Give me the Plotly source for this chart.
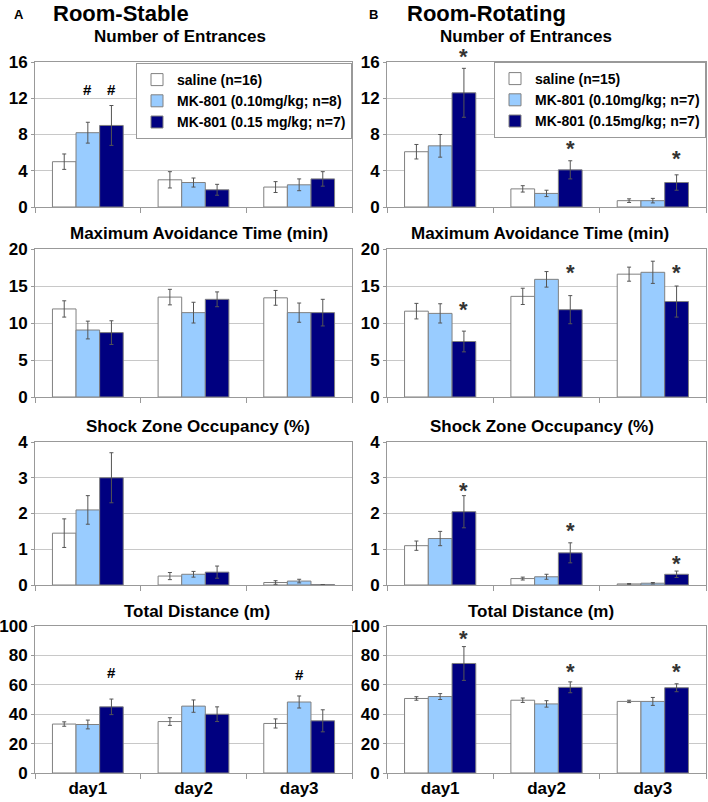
import plotly.graph_objects as go

days = ["day1", "day2", "day3"]

# rows: saline, MK-801 0.10, MK-801 0.15 ; columns: day1..day3
entr_stable = [[5.0, 3.0, 2.2], [8.2, 2.7, 2.45], [9.0, 1.9, 3.1]]
entr_stable_err = [[0.85, 0.9, 0.6], [1.15, 0.5, 0.65], [2.2, 0.6, 0.8]]
entr_rot = [[6.1, 2.0, 0.7], [6.75, 1.5, 0.7], [12.6, 4.1, 2.7]]
entr_rot_err = [[0.8, 0.35, 0.2], [1.25, 0.35, 0.25], [2.7, 1.0, 0.85]]

avoid_stable = [[11.9, 13.5, 13.4], [9.05, 11.4, 11.4], [8.7, 13.2, 11.4]]
avoid_stable_err = [[1.1, 1.05, 1.0], [1.2, 1.4, 1.3], [1.6, 1.0, 1.8]]
avoid_rot = [[11.6, 13.6, 16.6], [11.3, 15.9, 16.85], [7.5, 11.8, 12.9]]
avoid_rot_err = [[1.05, 1.1, 0.95], [1.3, 1.05, 1.5], [1.4, 1.9, 2.1]]

shock_stable = [[1.45, 0.25, 0.07], [2.1, 0.3, 0.11], [3.0, 0.36, 0.01]]
shock_stable_err = [[0.4, 0.1, 0.05], [0.4, 0.08, 0.05], [0.7, 0.17, 0.0]]
shock_rot = [[1.1, 0.18, 0.03], [1.3, 0.23, 0.05], [2.05, 0.9, 0.3]]
shock_rot_err = [[0.13, 0.04, 0.01], [0.2, 0.07, 0.02], [0.45, 0.28, 0.09]]

dist_stable = [[33.3, 35.0, 33.7], [33.0, 45.5, 48.3], [45.0, 40.0, 35.5]]
dist_stable_err = [[1.5, 2.6, 3.1], [3.0, 4.2, 4.1], [5.3, 5.0, 7.5]]
dist_rot = [[50.7, 49.5, 48.7], [52.0, 47.0, 48.7], [74.5, 58.3, 58.0]]
dist_rot_err = [[1.2, 1.5, 0.8], [2.0, 2.2, 2.7], [11.5, 3.7, 2.7]]

panel_titles = ["Number of Entrances", "Maximum Avoidance Time (min)",
                "Shock Zone Occupancy (%)", "Total Distance (m)"]
y_max = [16, 20, 4, 100]
y_step = [4, 5, 1, 20]

names_stable = ["saline (n=16)", "MK-801 (0.10mg/kg; n=8)", "MK-801 (0.15 mg/kg; n=7)"]
names_rot = ["saline (n=15)", "MK-801 (0.10mg/kg; n=7)", "MK-801 (0.15mg/kg; n=7)"]

# significance marks: (row, col, group, day index, symbol, y)
marks = [
    (0, 0, 1, 0, "#", 13.0), (0, 0, 2, 0, "#", 13.0),
    (3, 0, 2, 0, "#", 68.5), (3, 0, 1, 2, "#", 66.7),
    (0, 1, 2, 0, "*", 17.0), (0, 1, 2, 1, "*", 6.9), (0, 1, 2, 2, "*", 5.8),
    (1, 1, 2, 0, "*", 12.4), (1, 1, 2, 1, "*", 17.3), (1, 1, 2, 2, "*", 17.3),
    (2, 1, 2, 0, "*", 2.75), (2, 1, 2, 1, "*", 1.65), (2, 1, 2, 2, "*", 0.7),
    (3, 1, 2, 0, "*", 94), (3, 1, 2, 1, "*", 71.5), (3, 1, 2, 2, "*", 71.5),
]

means = [[entr_stable, entr_rot], [avoid_stable, avoid_rot],
         [shock_stable, shock_rot], [dist_stable, dist_rot]]
errs = [[entr_stable_err, entr_rot_err], [avoid_stable_err, avoid_rot_err],
        [shock_stable_err, shock_rot_err], [dist_stable_err, dist_rot_err]]

colors = ["#FFFFFF", "#99CCFF", "#000080"]
FONT = "Liberation Sans, Arial, sans-serif"
W, H = 708, 802
bargap = 0.33

# plot areas in pixels
col_px = [(35, 352), (387, 706)]
row_px = [(62, 207), (249, 397), (442, 585), (626, 773)]
title_y = [37, 234, 426, 611]
title_x = [[180, 526], [199, 540], [198, 542], [197, 541]]

fig = go.Figure()
layout = {}
annotations = []

for r in range(4):
    for c in range(2):
        k = r * 2 + c + 1
        sfx = "" if k == 1 else str(k)
        for g in range(3):
            fig.add_trace(go.Bar(
                x=days, y=means[r][c][g],
                error_y=dict(type="data", array=errs[r][c][g], color="#555555",
                             thickness=1, width=2),
                marker=dict(color=colors[g], line=dict(color="#808080", width=1)),
                name=(names_stable if c == 0 else names_rot)[g],
                showlegend=(r == 0),
                legend="legend" if c == 0 else "legend2",
                offsetgroup=str(g),
                xaxis="x" + sfx, yaxis="y" + sfx,
            ))
        x0, x1 = col_px[c]
        y0, y1 = row_px[r]
        layout["xaxis" + sfx] = dict(
            domain=[x0 / W, x1 / W], anchor="y" + sfx, automargin=False,
            showline=True, linecolor="#999999", mirror=True,
            ticks="outside", tickson="boundaries", ticklen=5, tickcolor="#999999",
            showticklabels=(r == 3), showgrid=False,
            tickfont=dict(family=FONT, size=17, color="black", weight="bold"),
        )
        layout["yaxis" + sfx] = dict(
            domain=[1 - y1 / H, 1 - y0 / H], anchor="x" + sfx, automargin=False,
            range=[0, y_max[r]], dtick=y_step[r],
            showline=True, linecolor="#999999", mirror=True,
            gridcolor="#C8C8C8", zeroline=False,
            ticks="outside", ticklen=3, tickcolor="#999999",
            tickfont=dict(family=FONT, size=17, color="black", weight="bold"),
        )
        annotations.append(dict(
            text=panel_titles[r], xref="paper", yref="paper",
            x=title_x[r][c] / W, y=1 - title_y[r] / H,
            xanchor="center", yanchor="middle", showarrow=False,
            font=dict(family=FONT, size=17, color="black", weight="bold"),
        ))

bar_w = (1 - bargap) / 3
for r, c, g, d, sym, yv in marks:
    k = r * 2 + c + 1
    sfx = "" if k == 1 else str(k)
    # domain ref so marks above the axis range still show
    annotations.append(dict(
        text=sym, xref="x" + sfx, yref="y" + sfx + " domain",
        x=d + (g - 1) * bar_w, y=yv / y_max[r], showarrow=False,
        yanchor="middle", yshift=-4 if sym == "*" else 0,
        font=dict(family=FONT, size=22 if sym == "*" else 15,
                  color="#333333" if sym == "*" else "black", weight="bold"),
    ))

# headers
for lab, lx, txt, tx in [("A", 12, "Room-Stable", 51), ("B", 367, "Room-Rotating", 405)]:
    annotations.append(dict(text=lab, xref="paper", yref="paper", x=lx / W, y=1 - 14 / H,
                            xanchor="left", yanchor="middle", showarrow=False,
                            font=dict(family=FONT, size=13, color="black", weight="bold")))
    annotations.append(dict(text=txt, xref="paper", yref="paper", x=tx / W, y=1 - 13 / H,
                            xanchor="left", yanchor="middle", showarrow=False,
                            font=dict(family=FONT, size=22, color="black", weight="bold")))

legend_style = dict(
    bgcolor="white", bordercolor="#999999", borderwidth=1,
    xref="paper", yref="paper", xanchor="right", yanchor="top",
    traceorder="normal", tracegroupgap=0,
    font=dict(family=FONT, size=14, color="black", weight="bold"),
)

fig.update_layout(
    width=W, height=H,
    margin=dict(l=0, r=0, t=0, b=0),
    paper_bgcolor="white", plot_bgcolor="white",
    barmode="group", bargap=bargap, bargroupgap=0,
    annotations=annotations,
    legend=dict(legend_style, x=352 / W, y=1 - 63 / H),
    legend2=dict(legend_style, x=706 / W, y=1 - 62 / H),
    **layout,
)

# the page body has a default 8px margin; drop it so the figure sits at 0,0
fig.write_html("out.html", config={"displayModeBar": False},
               post_script="document.body.style.margin='0';")
